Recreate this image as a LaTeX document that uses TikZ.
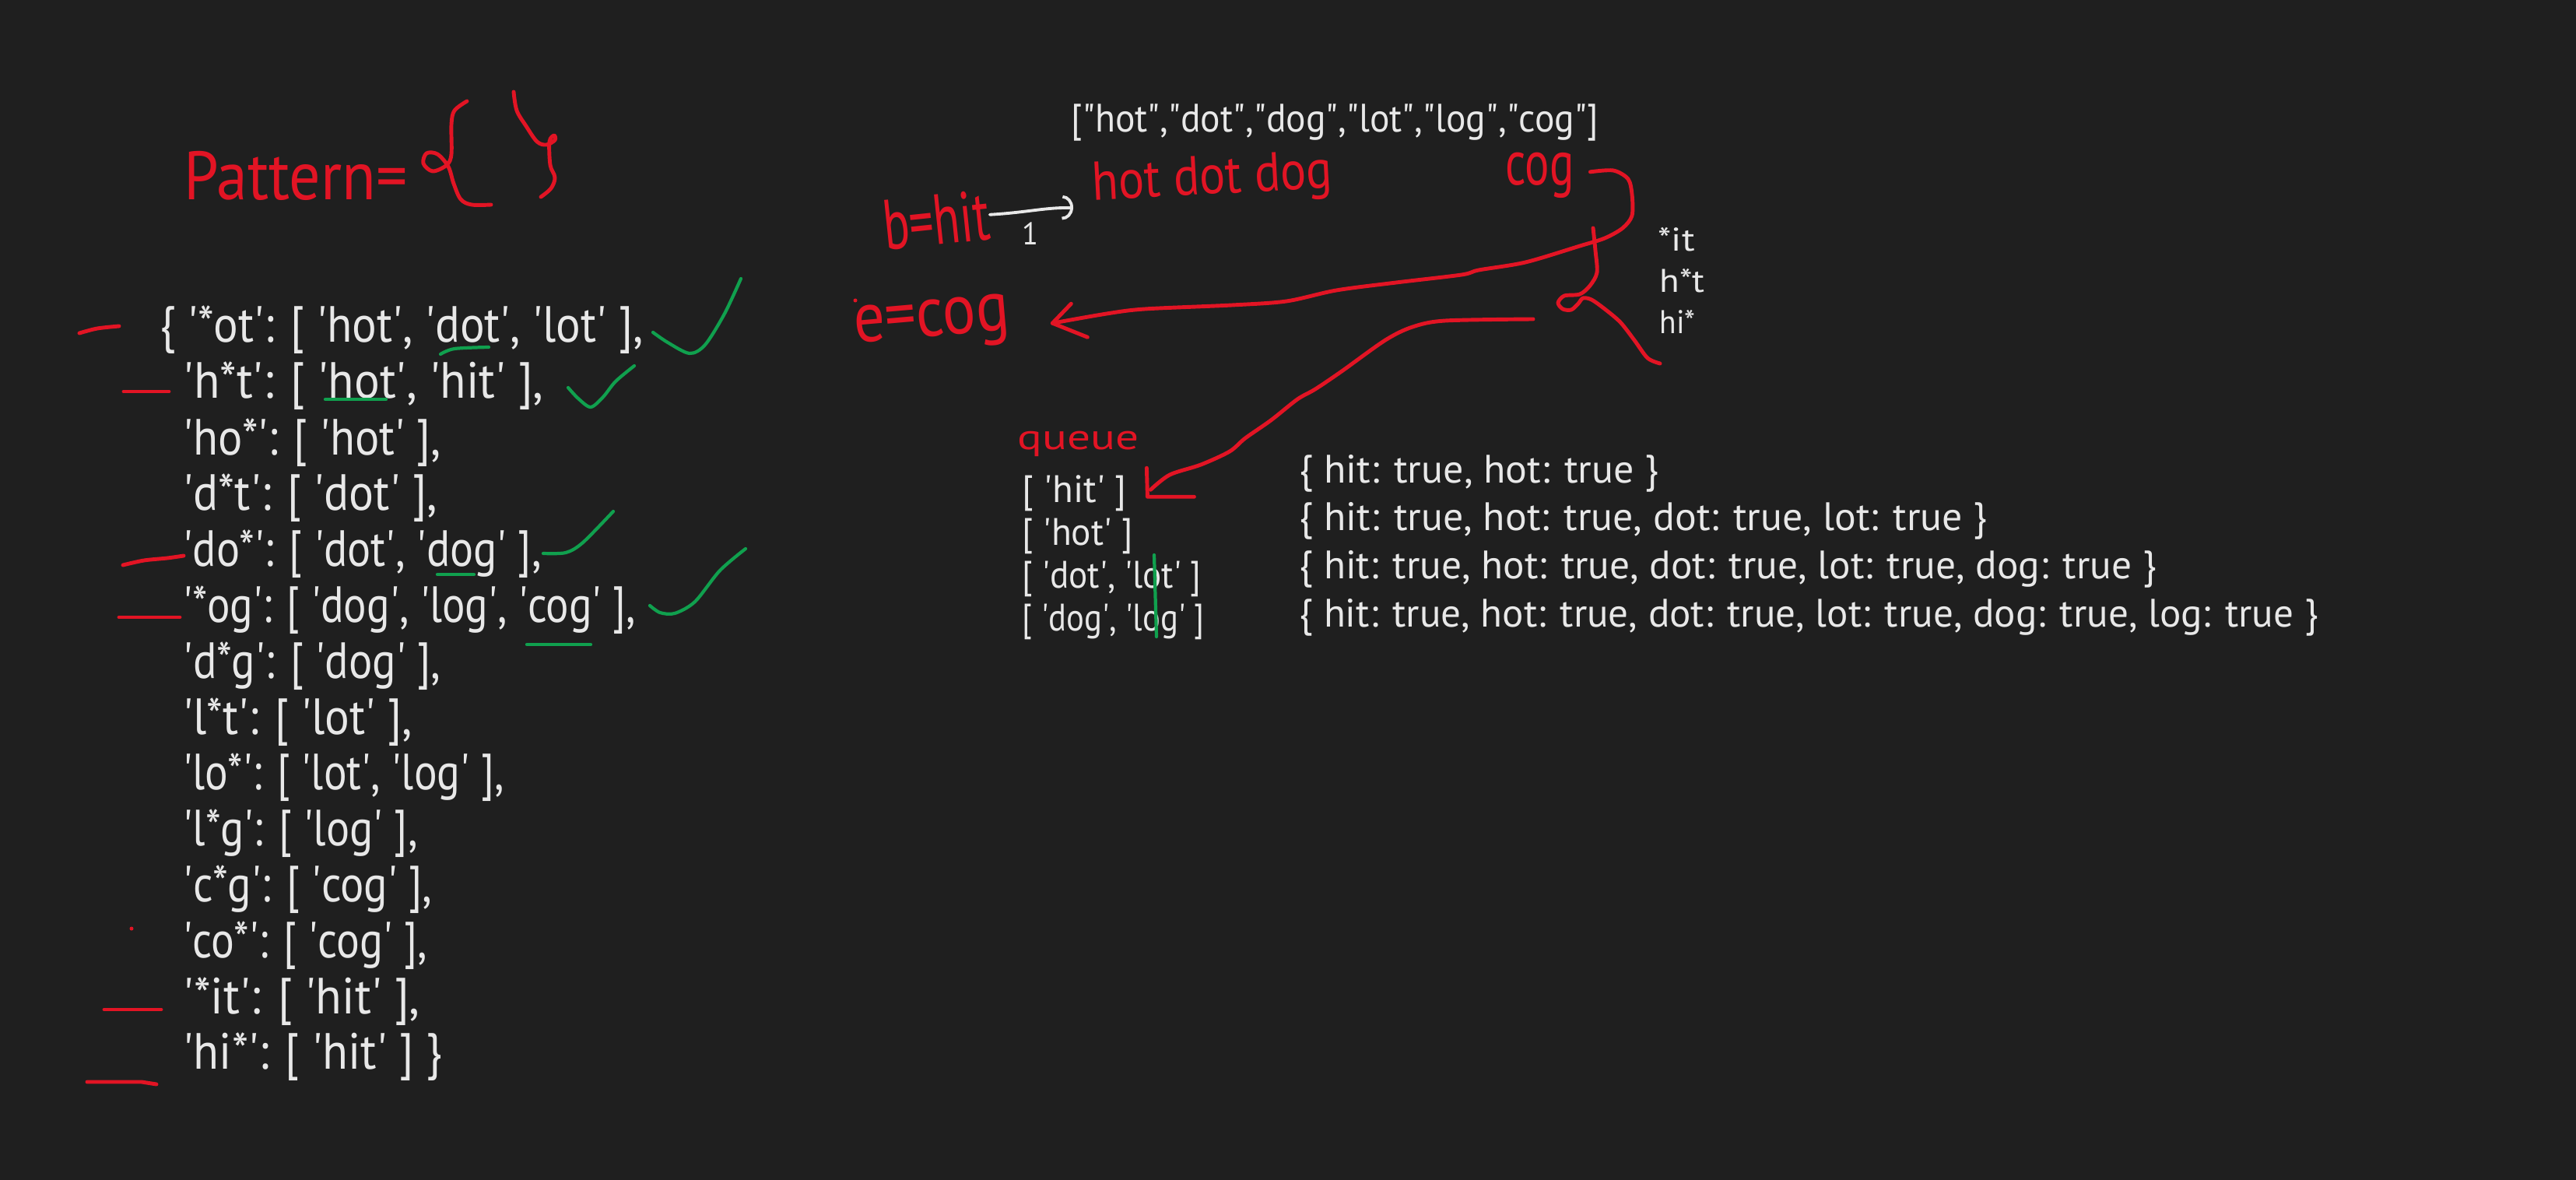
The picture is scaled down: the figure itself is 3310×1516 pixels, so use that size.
\documentclass[tikz,border=0pt]{standalone}
\usepackage{fontspec}
\setmainfont{PT Sans}
\usetikzlibrary{arrows.meta,calc}
\definecolor{bg}{RGB}{31,31,31}
\definecolor{txt}{RGB}{232,232,232}
\definecolor{rd}{RGB}{226,20,36}
\definecolor{gr}{RGB}{16,160,78}
\newlength\upx \setlength\upx{0.01cm}
\newcommand\fw[2]{\resizebox{#1\upx}{\height}{#2}}
\newcommand\q{\textquotesingle}
\newcommand\qq{\textquotedbl}
\tikzset{
  wt/.style={text=txt, inner sep=0pt, anchor=base west},
  dict/.style={wt, font=\fontsize{18.6}{20}\selectfont},
  small/.style={wt, font=\fontsize{12}{14}\selectfont},
  mid/.style={wt, font=\fontsize{14.5}{16}\selectfont},
  rt/.style={text=rd, inner sep=0pt},
  rline/.style={draw=rd, line width=1.4pt, line cap=round, line join=round},
  gline/.style={draw=gr, line width=1.2pt, line cap=round, line join=round},
  wline/.style={draw=txt, line width=1.1pt, line cap=round, line join=round},
}
\begin{document}
\begin{tikzpicture}[x=0.01cm,y=-0.01cm]
\fill[bg] (0,0) rectangle (3310,1516);
\useasboundingbox (0,0) rectangle (3310,1516);

% ---------- Pattern = { }
\node[rt, anchor=base west, font=\fontsize{25}{27}\selectfont] (pat) at (236,257) {\fw{287}{Pattern=}};
\draw[rline] plot[smooth, tension=0.55] coordinates {(600,130) (584,142) (580,160) (580,198) (574,212) (556,220) (544,210) (548,197) (562,198) (576,214) (583,236) (592,256) (606,263) (631,263)};
\draw[rline] plot[smooth, tension=0.55] coordinates {(660,118) (664,142) (676,162) (690,182) (702,186) (713,180) (712,174) (706,182) (707,212) (713,228) (708,242) (695,253)};

% ---------- dictionary
\node[dict] (r1) at (205,440) {\fw{621}{\{ \q*ot\q: [ \q hot\q, \q dot\q, \q lot\q{} ],}};
\node[dict] (r2) at (235,512) {\fw{463}{\q h*t\q: [ \q hot\q, \q hit\q{} ],}};
\node[dict] (r3) at (235,584) {\fw{331}{\q ho*\q: [ \q hot\q{} ],}};
\node[dict] (r4) at (235,655) {\fw{326}{\q d*t\q: [ \q dot\q{} ],}};
\node[dict] (r5) at (235,727) {\fw{460}{\q do*\q: [ \q dot\q, \q dog\q{} ],}};
\node[dict] (r6) at (235,799) {\fw{581}{\q*og\q: [ \q dog\q, \q log\q, \q cog\q{} ],}};
\node[dict] (r7) at (235,871) {\fw{331}{\q d*g\q: [ \q dog\q{} ],}};
\node[dict] (r8) at (235,943) {\fw{294}{\q l*t\q: [ \q lot\q{} ],}};
\node[dict] (r9) at (235,1014) {\fw{412}{\q lo*\q: [ \q lot\q, \q log\q{} ],}};
\node[dict] (r10) at (235,1086) {\fw{301}{\q l*g\q: [ \q log\q{} ],}};
\node[dict] (r11) at (235,1158) {\fw{320}{\q c*g\q: [ \q cog\q{} ],}};
\node[dict] (r12) at (235,1230) {\fw{313}{\q co*\q: [ \q cog\q{} ],}};
\node[dict] (r13) at (235,1302) {\fw{304}{\q*it\q: [ \q hit\q{} ],}};
\node[dict] (r14) at (235,1373) {\fw{333}{\q hi*\q: [ \q hit\q{} ] \}}};

% red marks left of rows
\draw[rline] plot[smooth] coordinates {(102,428) (125,422) (153,419)};
\draw[rline] (159,503) -- (217,503);
\draw[rline] plot[smooth] coordinates {(158,726) (185,720) (215,717) (236,714)};
\draw[rline] (153,793) -- (231,793);
\fill[rd] (169,1193) circle (2.5);
\draw[rline] (134,1297) -- (207,1297);
\draw[rline] (112,1390) -- (182,1390) -- (201,1393);

% green marks
\draw[gline] plot[smooth] coordinates {(566,455) (584,448) (628,446)};
\draw[gline] plot[smooth] coordinates {(839,427) (858,440) (886,454) (906,443) (931,403) (952,358)};
\draw[gline] (418,513) -- (496,513);
\draw[gline] plot[smooth] coordinates {(730,498) (743,512) (759,523) (775,510) (791,490) (815,470)};
\draw[gline] (562,738) -- (609,738);
\draw[gline] plot[smooth] coordinates {(698,711) (727,710) (749,697) (788,657)};
\draw[gline] plot[smooth] coordinates {(835,778) (848,787) (867,788) (893,773) (925,733) (958,705)};
\draw[gline] (677,828) -- (759,828);

% ---------- top word list
\node[mid] (words) at (1376,170) {\fw{677}{[\qq hot\qq,\qq dot\qq,\qq dog\qq,\qq lot\qq,\qq log\qq,\qq cog\qq]}};

% ---------- b=hit -> hot dot dog
\node[rt, font=\fontsize{26}{28}\selectfont, rotate=6] (bhit) at (1203,283) {\fw{137}{b=hit}};
\node[rt, font=\fontsize{20}{22}\selectfont, rotate=3] (hdd) at (1558,232) {\fw{309}{hot dot dog}};
\node[wt, font=\fontsize{11.5}{13}\selectfont] (one) at (1313,315) {\fw{21}{1}};
\coordinate (wtip) at ($(hdd.west)+(-24,27)$);
\draw[wline, -{Arc Barb[length=4pt, width=9pt]}] (bhit.east) .. controls (1320,273) and (1345,266) .. (wtip);

% ---------- cog -> e=cog
\node[rt, anchor=base west, font=\fontsize{23}{25}\selectfont] (cogr) at (1934,238) {\fw{88}{cog}};
\node[rt, font=\fontsize{26}{28}\selectfont, rotate=5] (ecog) at (1198,418) {\fw{200}{e=cog}};
\fill[rd] (1099,386) circle (2.5);
\coordinate (cstart) at ($(cogr.east)+(20,-5)$);
\coordinate (etip) at ($(ecog.east)+(54,6)$);
\draw[rline] plot[smooth, tension=0.5] coordinates {(cstart) (2073,219) (2092,230) (2097,250) (2097,277) (2085,293) (2062,306) (2030,316) (1960,337) (1900,347) (1878,353) (1794,363) (1717,373) (1653,387) (1583,392) (1471,397) (1422,403) (etip)};
\draw[rline] ($(etip)+(24,-25)$) -- (etip) -- ($(etip)+(45,18)$);

% loop stroke
\draw[rline] plot[smooth, tension=0.5] coordinates {(2047,293) (2050,322) (2052,350) (2043,367) (2030,378) (2010,380) (2002,389) (2008,397) (2019,398) (2028,390) (2034,383) (2045,385) (2062,397) (2082,414) (2100,437) (2117,460) (2133,467)};

% patterns of hit
\node[small] (p1) at (2130,323) {\fw{47}{*it}};
\node[small] (p2) at (2132,376) {\fw{58}{h*t}};
\node[small] (p3) at (2132,429) {\fw{46}{hi*}};

% ---------- queue
\node[rt, anchor=base west, font=\fontsize{13}{15}\selectfont] (qlabel) at (1307,578) {\fw{156}{queue}};
\node[wt, font=\fontsize{14}{16}\selectfont] (q1) at (1313,645) {\fw{134}{[ \q hit\q{} ]}};
\node[wt, font=\fontsize{14}{16}\selectfont] (q2) at (1313,700) {\fw{142}{[ \q hot\q{} ]}};
\node[wt, font=\fontsize{14}{16}\selectfont] (q3) at (1313,755) {\fw{230}{[ \q dot\q, \q lot\q{} ]}};
\node[wt, font=\fontsize{14}{16}\selectfont] (q4) at (1313,810) {\fw{234}{[ \q dog\q, \q log\q{} ]}};
\draw[gline] (1483,713) -- (1486,818);

\coordinate (qs) at (1970,410);
\coordinate (qtip) at ($(q1.east)+(30,-4)$);
\draw[rline] plot[smooth, tension=0.5] coordinates {(qs) (1857,412) (1815,420) (1780,437) (1724,477) (1690,500) (1667,513) (1633,540) (1600,563) (1580,580) (1543,597) (1503,610) (qtip)};
\draw[rline] ($(qtip)+(-5,-28)$) -- ($(qtip)+(-4,9)$) -- ($(qtip)+(56,9)$);

% ---------- visited
\node[mid] (v1) at (1669,620) {\fw{462}{\{ hit: true, hot: true \}}};
\node[mid] (v2) at (1669,682) {\fw{884}{\{ hit: true, hot: true, dot: true, lot: true \}}};
\node[mid] (v3) at (1669,743) {\fw{1101}{\{ hit: true, hot: true, dot: true, lot: true, dog: true \}}};
\node[mid] (v4) at (1669,805) {\fw{1309}{\{ hit: true, hot: true, dot: true, lot: true, dog: true, log: true \}}};
\end{tikzpicture}
\end{document}
